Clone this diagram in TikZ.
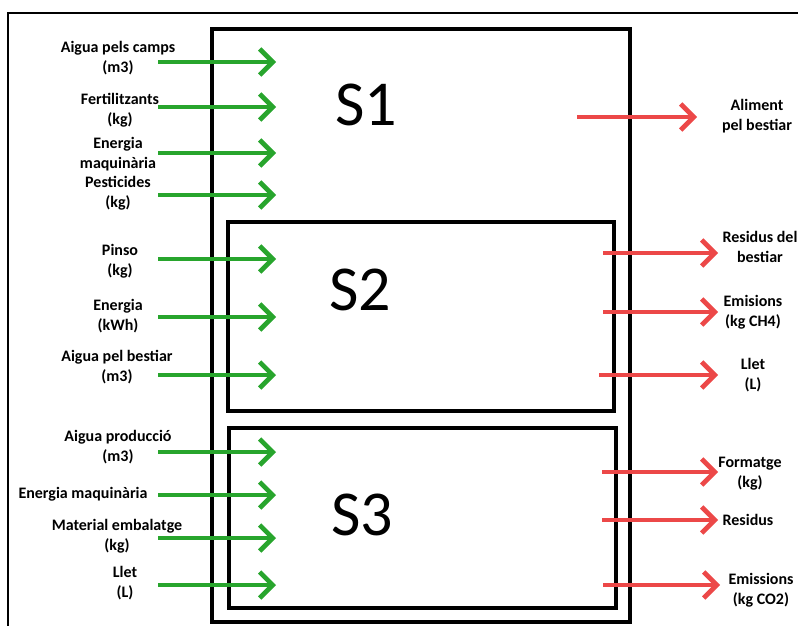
\documentclass[tikz,border=0pt]{standalone}
\usepackage{fontspec}
\setmainfont{Carlito}
\usepackage{xcolor}
\usetikzlibrary{arrows.meta}

\definecolor{ingreen}{RGB}{40,165,45}
\definecolor{outred}{RGB}{236,72,72}

\begin{document}
\begin{tikzpicture}[
  x=1pt, y=-1pt,
  lbl/.style={align=center, inner sep=0pt, font=\fontsize{16}{20}\selectfont\bfseries},
  sub/.style={draw, line width=3.5pt},
  big/.style={inner sep=0pt, font=\fontsize{64}{70}\selectfont},
  inarr/.style={ingreen, line width=3.5pt, -{Straight Barb[length=13pt, width=26pt, line width=1.2pt 1]}},
  outarr/.style={outred, line width=3.5pt, -{Straight Barb[length=13pt, width=26pt, line width=1.2pt 1]}}
]
  \useasboundingbox (0,0) rectangle (798,626);
  \clip (0,0) rectangle (798,626);
  \draw[line width=1.5pt] (8,640) -- (8,13) -- (810,13);

  % subsystems
  \draw[sub] (212,29) rectangle (630,622);
  \draw[sub] (228,222) rectangle (614,411);
  \draw[sub] (229,428) rectangle (616,608);
  \node[big] (s1) at (366,105) {S1};
  \node[big] (s2) at (360,290) {S2};
  \node[big] (s3) at (362,515) {S3};

  % inputs
  \node[lbl] (aiguacamps) at (118,58) {Aigua pels camps\\(m3)};
  \node[lbl] (fert) at (120,110) {Fertilitzants\\(kg)};
  \node[lbl] (enmaq) at (118,154) {Energia\\maquinària};
  \node[lbl] (pest) at (118,193) {Pesticides\\(kg)};
  \node[lbl] (pinso) at (120,261) {Pinso\\(kg)};
  \node[lbl] (enkwh) at (118,316) {Energia\\(kWh)};
  \node[lbl] (aiguabest) at (117,367) {Aigua pel bestiar\\(m3)};
  \node[lbl] (aiguaprod) at (118,447) {Aigua producció\\(m3)};
  \node[lbl] (enmaqprod) at (83,494) {Energia maquinària};
  \node[lbl] (embal) at (117,536) {Material embalatge\\(kg)};
  \node[lbl] (lletin) at (125,583) {Llet\\(L)};

  \foreach \n/\y in {i1/62, i2/107, i3/153, i4/195, i5/259, i6/317,
                     i7/375, i8/452, i9/495, i10/538, i11/585} {
    \coordinate (\n a) at (158,\y);
    \coordinate (\n b) at (276,\y);
  }
  \draw[inarr] (i1a) -- (i1b);
  \draw[inarr] (i2a) -- (i2b);
  \draw[inarr] (i3a) -- (i3b);
  \draw[inarr] (i4a) -- (i4b);
  \draw[inarr] (i5a) -- (i5b);
  \draw[inarr] (i6a) -- (i6b);
  \draw[inarr] (i7a) -- (i7b);
  \draw[inarr] (i8a) -- (i8b);
  \draw[inarr] (i9a) -- (i9b);
  \draw[inarr] (i10a) -- (i10b);
  \draw[inarr] (i11a) -- (i11b);

  % outputs
  \node[lbl] (aliment) at (757,116) {Aliment\\pel bestiar};
  \node[lbl] (resbest) at (760,247) {Residus del\\bestiar};
  \node[lbl] (emch4) at (753,312) {Emisions\\(kg CH4)};
  \node[lbl] (lletout) at (753,375) {Llet\\(L)};
  \node[lbl] (format) at (750,474) {Formatge\\(kg)};
  \node[lbl] (residus) at (748,520) {Residus};
  \node[lbl] (emco2) at (761,590) {Emissions\\(kg CO2)};

  \coordinate (o1a) at (577,117); \coordinate (o1b) at (697,117);
  \coordinate (o2a) at (603,253); \coordinate (o2b) at (718,253);
  \coordinate (o3a) at (603,312); \coordinate (o3b) at (718,312);
  \coordinate (o4a) at (599,375); \coordinate (o4b) at (718,375);
  \coordinate (o5a) at (602,472); \coordinate (o5b) at (718,472);
  \coordinate (o6a) at (602,520); \coordinate (o6b) at (718,520);
  \coordinate (o7a) at (603,585); \coordinate (o7b) at (720,585);
  \draw[outarr] (o1a) -- (o1b);
  \draw[outarr] (o2a) -- (o2b);
  \draw[outarr] (o3a) -- (o3b);
  \draw[outarr] (o4a) -- (o4b);
  \draw[outarr] (o5a) -- (o5b);
  \draw[outarr] (o6a) -- (o6b);
  \draw[outarr] (o7a) -- (o7b);
\end{tikzpicture}
\end{document}
